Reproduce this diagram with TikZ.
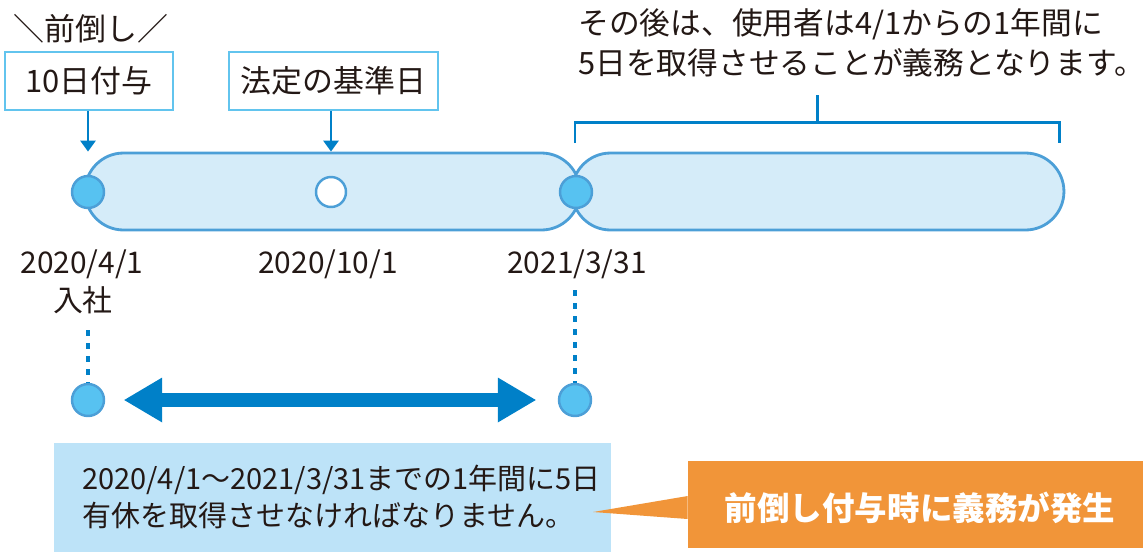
\documentclass[tikz,border=0pt]{standalone}
\usepackage{fontspec}
\setmainfont{Noto Sans CJK JP}
\usetikzlibrary{arrows.meta}

\definecolor{ink}{HTML}{231815}
\definecolor{tagline}{HTML}{62C4EE}
\definecolor{capline}{HTML}{4C9FD7}
\definecolor{capfill}{HTML}{D5ECF9}
\definecolor{dotfill}{HTML}{57C2F1}
\definecolor{markblue}{HTML}{0080C8}
\definecolor{infofill}{HTML}{BDE3F8}
\definecolor{warnorange}{HTML}{F19539}

\tikzset{
  capsule/.style={draw=capline,fill=capfill,line width=1.6pt,rounded corners=0.77cm,minimum height=1.54cm,inner sep=0pt},
  dot/.style={circle,draw=capline,fill=dotfill,line width=1.4pt,minimum size=0.64cm,inner sep=0pt},
  tagbox/.style={draw=tagline,fill=white,line width=1.1pt,minimum height=1.16cm,inner sep=0pt},
  pointer/.style={draw=markblue,line width=1.7pt,-{Triangle[width=0.3cm,length=0.22cm]}},
  dotline/.style={draw=markblue,line width=2.5pt,dash pattern=on 3.4pt off 4pt},
  datelabel/.style={font=\fontsize{17pt}{21pt}\selectfont}
}

\begin{document}
\begin{tikzpicture}[x=0.02cm,y=-0.02cm,font=\fontsize{17.6pt}{23pt}\selectfont,text=ink]
\useasboundingbox (0,0) rectangle (1143,552);

% the two periods
\node[capsule,minimum width=9.9cm] (cap1) at (332.5,191.5) {};
\node[capsule,minimum width=9.84cm] (cap2) at (818,191.5) {};

\begin{scope}[every node/.style={dot}]
  \node (p1) at (88,192) {};
  \node[fill=white,minimum size=0.6cm] (p2) at (331,192) {};
  \node (p3) at (576,192) {};
  \node (q1) at (88,400) {};
  \node (q2) at (575,400) {};
\end{scope}

% labels above
\node (pre) at (91,29) {＼前倒し／};
\node[tagbox,minimum width=3.36cm] (give) at (89,81) {10日付与};
\node[tagbox,minimum width=4.18cm] (base) at (333.5,81) {法定の基準日};
\draw[pointer] (give.south -| p1) -- (p1 |- cap1.north);
\draw[pointer] (base.south -| p2) -- (p2 |- cap1.north);

\node[align=left,anchor=west,inner sep=0pt,font=\fontsize{17.5pt}{23pt}\selectfont] (note) at (578,43) {その後は、使用者は4/1からの1年間に\\5日を取得させることが義務となります。};
\coordinate (bl) at (575,143);
\coordinate (bm) at (817,122);
\coordinate (br) at (1059,143);
\coordinate (bt) at (817,95);
\begin{scope}[every path/.style={draw=markblue,line width=1.7pt}]
  \path (bl) |- (bm) -| (br);
  \path (bm) -- (bt);
\end{scope}

% dates
\begin{scope}[every node/.style={datelabel}]
  \node (d1) at (82,264) {2020/4/1};
  \node (join) at (83,300) {入社};
  \node (d2) at (328,264) {2020/10/1};
  \node (d3) at (577,264) {2021/3/31};
\end{scope}

\coordinate (t1) at (88,330);
\coordinate (t3) at (575,290);
\draw[dotline] (t1) -- (q1);
\draw[dotline] (t3) -- (q2);
\draw[markblue,line width=8.5pt,shorten <=0.38cm,shorten >=0.44cm,
  {Triangle[width=0.9cm,length=0.76cm,line width=0pt]}-{Triangle[width=0.9cm,length=0.76cm,line width=0pt]}] (q1) -- (q2);

% notes below
\node[fill=infofill,minimum width=11.14cm,minimum height=2.18cm,inner sep=0pt] (info) at (332.5,497.5) {};
\node[align=left,anchor=west,font=\fontsize{16.5pt}{21.5pt}\selectfont] (infotext) at (76,497)
  {2020/4/1～2021/3/31までの1年間に5日\\有休を取得させなければなりません。};
\node[fill=warnorange,minimum width=9.1cm,minimum height=1.74cm,inner sep=0pt] (warn) at (915.5,504.5) {};
\node[text=white,font=\fontsize{18.5pt}{22pt}\selectfont\bfseries] (warntext) at (920,508) {前倒し付与時に義務が発生};
\coordinate (tip) at (593,512);
\fill[warnorange] (warn.west |- 0,496) -- (tip) -- (warn.west |- 0,519) -- cycle;
\end{tikzpicture}
\end{document}
